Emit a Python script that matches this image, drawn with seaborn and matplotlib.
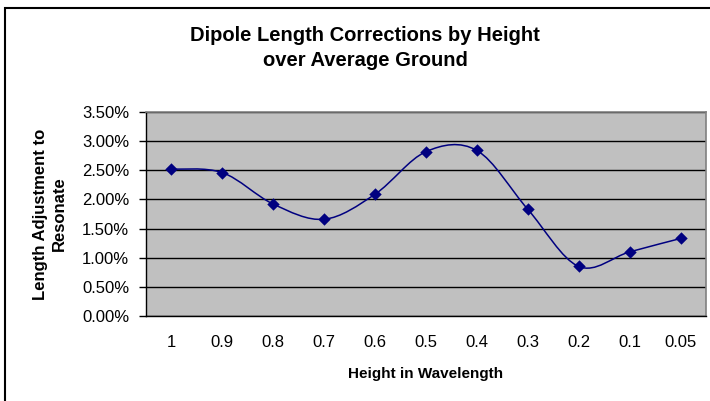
import numpy as np
import pandas as pd
import matplotlib
matplotlib.use("Agg")
import matplotlib.pyplot as plt
from matplotlib.path import Path
from matplotlib.patches import PathPatch, Rectangle
from matplotlib.ticker import MultipleLocator, FuncFormatter, FixedLocator
import seaborn as sns

# Data
heights = ["1", "0.9", "0.8", "0.7", "0.6", "0.5", "0.4", "0.3", "0.2", "0.1", "0.05"]
adjust_pct = [2.52, 2.46, 1.92, 1.66, 2.09, 2.82, 2.84, 1.83, 0.85, 1.10, 1.33]

df = pd.DataFrame({"Height": heights, "Adjust": adjust_pct})
df["pos"] = range(len(df))

sns.set_style("white")
plt.rcParams["font.family"] = ["Liberation Sans", "DejaVu Sans"]
plt.rcParams["text.color"] = "black"
plt.rcParams["axes.labelcolor"] = "black"
plt.rcParams["xtick.color"] = "black"
plt.rcParams["ytick.color"] = "black"

navy = "#000080"
fig = plt.figure(figsize=(7.10, 4.01), dpi=100)
ax = fig.add_axes([146 / 710, 1 - 316 / 401, 560 / 710, 204 / 401])
ax.set_facecolor("#C0C0C0")

# Smoothed line (Excel-style bezier through the points)
x = df["pos"].to_numpy(float)
y = df["Adjust"].to_numpy(float)
verts = [(x[0], y[0])]
codes = [Path.MOVETO]
n = len(x)
for i in range(n - 1):
    p0 = (x[i - 1], y[i - 1]) if i > 0 else (x[i], y[i])
    p1 = (x[i], y[i])
    p2 = (x[i + 1], y[i + 1])
    p3 = (x[i + 2], y[i + 2]) if i + 2 < n else (x[i + 1], y[i + 1])
    c1 = (p1[0] + (p2[0] - p0[0]) / 6, p1[1] + (p2[1] - p0[1]) / 6)
    c2 = (p2[0] - (p3[0] - p1[0]) / 6, p2[1] - (p3[1] - p1[1]) / 6)
    verts += [c1, c2, p2]
    codes += [Path.CURVE4] * 3
ax.add_patch(PathPatch(Path(verts, codes), facecolor="none", edgecolor=navy, lw=1.1, zorder=3))

sns.scatterplot(data=df, x="pos", y="Adjust", marker="D", s=40, color=navy,
                edgecolor=navy, linewidth=0, ax=ax, zorder=4, legend=False)

ax.set_xlim(-0.5, n - 0.5)
ax.set_ylim(0, 3.5)
ax.yaxis.set_major_locator(MultipleLocator(0.5))
ax.yaxis.set_major_formatter(FuncFormatter(lambda v, _: f"{v:.2f}%"))
ax.grid(axis="y", color="black", lw=1)
ax.set_axisbelow(True)

ax.xaxis.set_major_locator(FixedLocator(list(range(n))))
ax.set_xticklabels(heights)
ax.xaxis.set_minor_locator(FixedLocator([i - 0.5 for i in range(n + 1)]))
ax.tick_params(axis="x", which="major", length=0, pad=14, labelsize=12)
ax.tick_params(axis="x", which="minor", length=5, width=1, color="black", direction="out")
ax.tick_params(axis="y", which="major", length=5, width=1, color="black", direction="out",
               labelsize=12, pad=7, left=True)

for s in ["left", "bottom"]:
    ax.spines[s].set_color("black")
    ax.spines[s].set_linewidth(1)
for s in ["top", "right"]:
    ax.spines[s].set_color("#808080")
    ax.spines[s].set_linewidth(1.2)

ax.set_xlabel("Height in Wavelength", fontsize=11, fontweight="bold", labelpad=12)
ax.set_ylabel("Length Adjustment to\nResonate", fontsize=12, fontweight="bold", linespacing=1.35)
ax.yaxis.set_label_coords(-0.141, 0.5)

fig.text(365 / 710, 1 - 48 / 401, "Dipole Length Corrections by Height\nover Average Ground",
         ha="center", va="center", fontsize=14.5, fontweight="bold", linespacing=1.4)

fig.patches.append(Rectangle((5 / 710, -0.1), 1.0, 1.1 - 8 / 401, transform=fig.transFigure,
                             fill=False, edgecolor="black", lw=1.5))

plt.savefig("out.png", dpi=100)
